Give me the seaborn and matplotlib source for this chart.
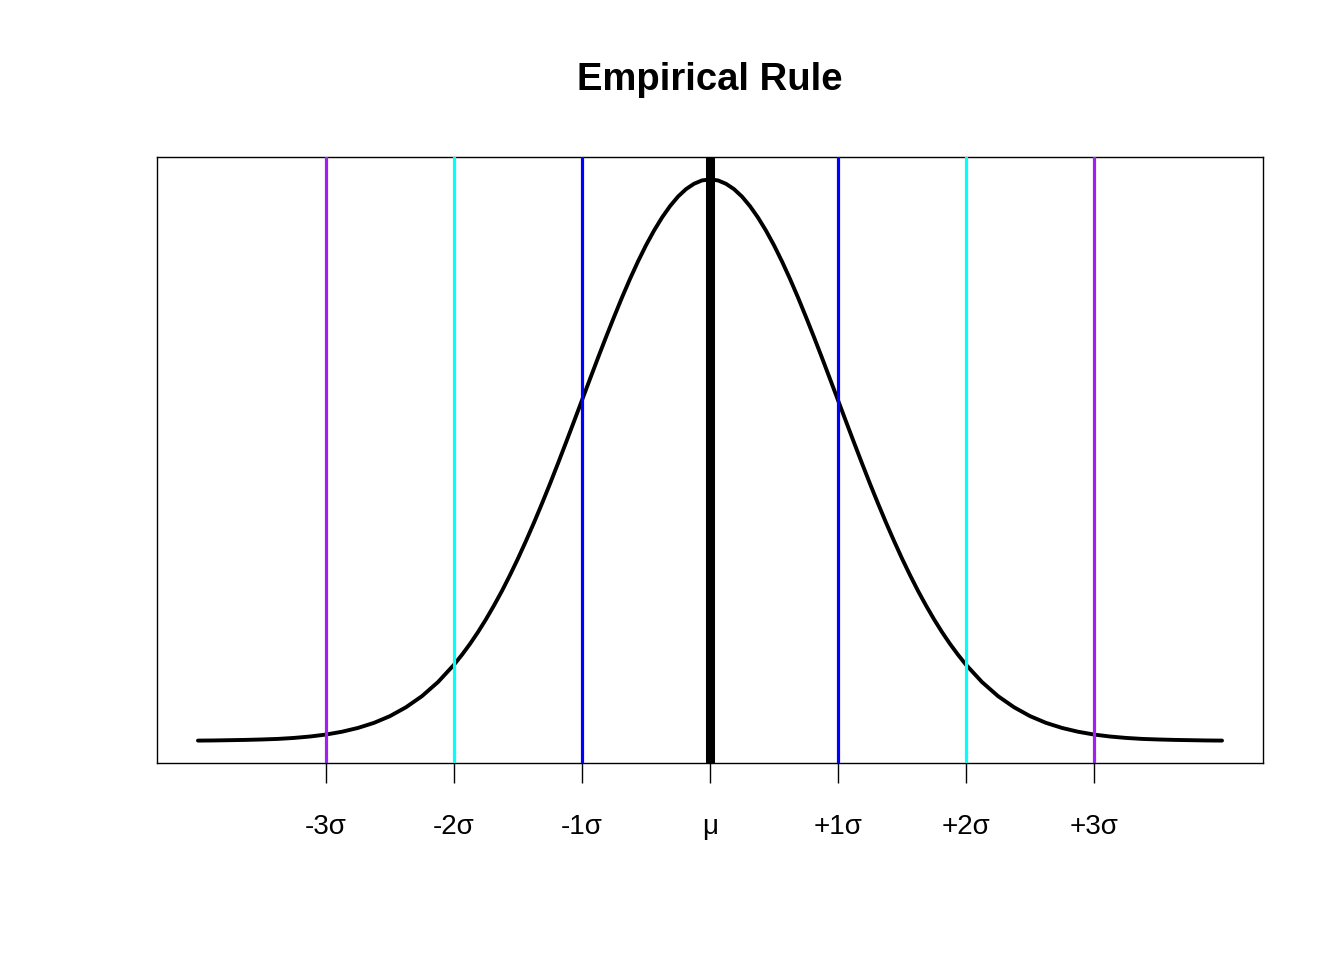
import matplotlib
matplotlib.use("Agg")
import matplotlib.pyplot as plt
import seaborn as sns
import pandas as pd

# Curve values (density of the standard normal, -4σ..+4σ)
x_sigma = (
    [-4.0, -3.875, -3.75, -3.625, -3.5, -3.375, -3.25, -3.125,
     -3.0, -2.875, -2.75, -2.625, -2.5, -2.375, -2.25, -2.125]
    + [-2.0 + 0.0625 * i for i in range(65)]
    + [2.125, 2.25, 2.375, 2.5, 2.625, 2.75, 2.875, 3.0,
       3.125, 3.25, 3.375, 3.5, 3.625, 3.75, 3.875, 4.0]
)
density = [
    # -4.0 .. -2.125
    0.0001, 0.0002, 0.0004, 0.0006, 0.0009, 0.0013, 0.0020, 0.0030,
    0.0044, 0.0064, 0.0091, 0.0127, 0.0175, 0.0238, 0.0317, 0.0417,
    # -2.0 .. 0
    0.0540, 0.0611, 0.0688, 0.0772, 0.0863, 0.0961, 0.1065, 0.1177,
    0.1295, 0.1420, 0.1550, 0.1686, 0.1826, 0.1971, 0.2119, 0.2269,
    0.2420, 0.2571, 0.2721, 0.2868, 0.3011, 0.3150, 0.3282, 0.3406,
    0.3521, 0.3625, 0.3718, 0.3799, 0.3867, 0.3920, 0.3958, 0.3982,
    0.3989,
    # 0.0625 .. 2.0
    0.3982, 0.3958, 0.3920, 0.3867, 0.3799, 0.3718, 0.3625, 0.3521,
    0.3406, 0.3282, 0.3150, 0.3011, 0.2868, 0.2721, 0.2571, 0.2420,
    0.2269, 0.2119, 0.1971, 0.1826, 0.1686, 0.1550, 0.1420, 0.1295,
    0.1177, 0.1065, 0.0961, 0.0863, 0.0772, 0.0688, 0.0611, 0.0540,
    # 2.125 .. 4.0
    0.0417, 0.0317, 0.0238, 0.0175, 0.0127, 0.0091, 0.0064, 0.0044,
    0.0030, 0.0020, 0.0013, 0.0009, 0.0006, 0.0004, 0.0002, 0.0001,
]

tick_positions = [-3, -2, -1, 0, 1, 2, 3]
tick_labels = ["-3σ", "-2σ", "-1σ", "μ", "+1σ", "+2σ", "+3σ"]
line_positions = [-3, -2, -1, 0, 1, 2, 3]
line_colors = ["#A020F0", "#00FFFF", "#0000FF", "#000000", "#0000FF", "#00FFFF", "#A020F0"]
line_widths = [2.3, 2.3, 2.3, 6.5, 2.3, 2.3, 2.3]
title = "Empirical Rule"

sns.set_style("white")
plt.rcParams["font.family"] = ["Liberation Sans", "DejaVu Sans"]
plt.rcParams["text.color"] = "black"

fig = plt.figure(figsize=(13.44, 9.6), dpi=100)
ax = fig.add_axes([157 / 1344, 1 - 763 / 960, (1263 - 157) / 1344, (763 - 157) / 960])

df = pd.DataFrame({"x": x_sigma, "y": density})
sns.lineplot(data=df, x="x", y="y", ax=ax, color="black", linewidth=2.8, sort=True)

for pos, c, lw in zip(line_positions, line_colors, line_widths):
    ax.axvline(pos, color=c, linewidth=lw, zorder=3)

ax.set_xlim(-4.32, 4.32)
ax.set_ylim(-0.01582, 0.41484)
ax.set_xticks(tick_positions)
ax.set_xticklabels(tick_labels, fontsize=20)
ax.set_yticks([])
ax.set_xlabel("")
ax.set_ylabel("")
ax.tick_params(axis="x", bottom=True, length=14.4, width=1.0, pad=22, color="black", labelcolor="black")
for s in ax.spines.values():
    s.set_visible(True)
    s.set_color("black")
    s.set_linewidth(1.0)

fig.text((157 + 1263) / 2 / 1344, 1 - 90 / 960, title, ha="center", va="baseline",
         fontsize=27.5, fontweight="bold", color="black")

fig.savefig("out.png", dpi=100, facecolor="white")
